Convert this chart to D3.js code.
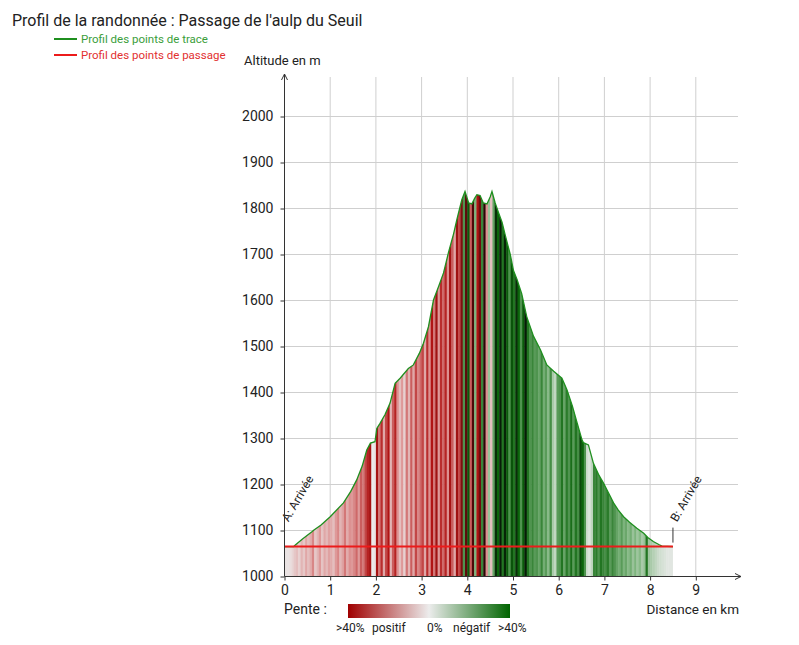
<!DOCTYPE html>
<html><head><meta charset="utf-8">
<script src="https://cdn.jsdelivr.net/npm/d3@7"></script>
<style>body{margin:0;background:#fff}svg{display:block;font-family:Roboto,"Noto Sans",sans-serif}</style>
</head><body>
<svg id="c" width="799" height="645"></svg>
<script>
// ---- data ----
const distances = [0,0.2,0.23,0.4,0.6,0.63,0.8,1.0,1.29,1.45,1.58,1.7,1.8,1.88,1.98,2.02,2.09,2.2,2.31,2.42,2.53,2.71,2.82,2.95,3.04,3.15,3.26,3.37,3.48,3.59,3.7,3.77,3.88,3.95,4.03,4.10,4.16,4.21,4.28,4.35,4.43,4.50,4.54,4.61,4.68,4.76,4.83,4.94,5.01,5.09,5.19,5.30,5.45,5.60,5.74,5.89,6.07,6.18,6.30,6.40,6.51,6.54,6.65,6.76,6.87,6.98,7.10,7.20,7.30,7.42,7.55,7.71,7.86,7.95,8.07,8.20,8.26,8.5];
const altitudes = [1065,1065,1068,1082,1097,1100,1112,1130,1160,1185,1210,1240,1275,1290,1293,1322,1333,1352,1377,1420,1431,1452,1460,1485,1507,1543,1601,1630,1660,1705,1745,1775,1819,1837,1812,1810,1822,1830,1828,1812,1810,1825,1837,1812,1792,1770,1742,1700,1665,1645,1615,1565,1522,1493,1460,1446,1431,1406,1370,1335,1297,1291,1286,1246,1222,1203,1180,1160,1145,1130,1118,1105,1094,1085,1076,1069,1066,1065];
const waypointDist = [0, 8.5];
const waypointAlt = [1065, 1065];
const waypointNames = ["A: Arrivée", "B: Arrivée"];
const stripeStep = 0.05;
// slope (%) of each 0.05 km stripe, + uphill, - downhill
const slopes = [
  2,2,3,5,8,10,6,12,8,15,
  10,14,22,8,12,18,9,15,11,16,
  14,10,18,22,12,16,25,14,20,18,
  22,28,18,30,25,35,42,48,0,2,
  48,25,40,15,35,45,12,30,42,20,
  10,18,6,25,12,30,15,35,22,28,
  35,15,40,20,45,25,50,18,40,28,
  42,20,48,30,15,50,35,60,-30,70,
  -50,30,75,-20,45,65,-35,85,20,-15,
  10,-25,-75,-45,-85,-40,-80,-50,-30,-55,
  -40,-75,-45,-30,-50,-85,-40,-30,-35,-28,
  -30,-25,-35,-22,-28,-18,-32,-12,-8,-28,
  -30,-40,-25,-38,-30,-42,-28,-40,-32,-60,
  -45,-30,-5,-3,-8,-35,-38,-30,-40,-35,
  -32,-38,-28,-35,-30,-25,-22,-28,-20,-24,
  -18,-22,-15,-20,-14,-18,-12,-16,-40,-14,
  -12,-10,-8,-6,-5,-4,-3,-2,-2,-2
];
const yTicks = [1000,1100,1200,1300,1400,1500,1600,1700,1800,1900,2000];
const xTicks = [0,1,2,3,4,5,6,7,8,9];
const title = "Profil de la randonnée : Passage de l'aulp du Seuil";
const legendLabels = ["Profil des points de trace", "Profil des points de passage"];
const penteLabels = [">40%", "positif", "0%", "négatif", ">40%"];

// ---- drawing ----
const svg = d3.select("#c");
const x = d3.scaleLinear().domain([0, 9]).range([284.5, 695.8]);
const y = d3.scaleLinear().domain([1000, 2000]).range([576.5, 116.5]);
const gridColor = "#cfcfcf", txt = "#222";

// grid
svg.append("g").selectAll("line").data(yTicks.slice(1)).join("line")
  .attr("x1", x(0)).attr("x2", 738).attr("y1", d => y(d)).attr("y2", d => y(d))
  .attr("stroke", gridColor).attr("stroke-width", 1);
svg.append("g").selectAll("line").data(xTicks.slice(1)).join("line")
  .attr("x1", d => x(d)).attr("x2", d => x(d)).attr("y1", 77).attr("y2", y(1000))
  .attr("stroke", gridColor).attr("stroke-width", 1);

// stripes clipped by profile area
const profile = distances.map((d, i) => [d, altitudes[i]]);
const area = d3.area().x(d => x(d[0])).y0(y(1000)).y1(d => y(d[1]));
svg.append("clipPath").attr("id", "pc").append("path").attr("d", area(profile));
const color = d3.scaleLinear()
  .domain([-90, -45, -20, 0, 20, 45, 90])
  .range(["#061206", "#0b650b", "#7db47d", "#ececec", "#dc9090", "#b01414", "#1a0404"])
  .clamp(true);
svg.append("g").attr("clip-path", "url(#pc)").selectAll("rect").data(slopes).join("rect")
  .attr("x", (s, i) => x(i * stripeStep))
  .attr("width", (s, i) => x((i + 1) * stripeStep) - x(i * stripeStep) + 0.4)
  .attr("y", y(2000)).attr("height", y(1000) - y(2000))
  .attr("fill", s => color(s));

// profile line
svg.append("path").datum(profile)
  .attr("d", d3.line().x(d => x(d[0])).y(d => y(d[1])))
  .attr("fill", "none").attr("stroke", "#1f8f1f").attr("stroke-width", 1.3);

// waypoint line
const wp = waypointDist.map((d, i) => [d, waypointAlt[i]]);
svg.append("path").datum(wp)
  .attr("d", d3.line().x(d => x(d[0])).y(d => y(d[1])))
  .attr("fill", "none").attr("stroke", "#ec1b1b").attr("stroke-width", 2);

// waypoint markers & labels
wp.forEach((p, i) => {
  const px = x(p[0]), py = y(p[1]);
  if (i > 0) svg.append("line").attr("x1", px).attr("x2", px).attr("y1", py - 19).attr("y2", py - 4)
    .attr("stroke", "#333").attr("stroke-width", 1);
  svg.append("text").attr("transform", `translate(${px + 4},${py - 24}) rotate(-60)`)
    .attr("font-size", 12).attr("fill", txt).text(waypointNames[i]);
});

// axes
const yAxis = svg.append("g").attr("transform", `translate(${x(0)},0)`)
  .call(d3.axisLeft(y).tickValues(yTicks).tickSize(4).tickPadding(7).tickFormat(d3.format("d")));
yAxis.select(".domain").remove();
yAxis.selectAll("line").attr("stroke", "#333");
yAxis.selectAll("text").attr("font-size", 14).attr("fill", txt).attr("font-family", "Roboto");
const xAxis = svg.append("g").attr("transform", `translate(0,${y(1000)})`)
  .call(d3.axisBottom(x).tickValues(xTicks).tickSize(4).tickPadding(5).tickFormat(d3.format("d")));
xAxis.select(".domain").remove();
xAxis.selectAll("line").attr("stroke", "#333");
xAxis.selectAll("text").attr("font-size", 14).attr("fill", txt).attr("font-family", "Roboto");

svg.append("line").attr("x1", x(0)).attr("x2", x(0)).attr("y1", y(1000)).attr("y2", 74).attr("stroke", "#333");
svg.append("path").attr("d", `M${x(0)-3},80 L${x(0)},74 L${x(0)+3},80`).attr("fill", "none").attr("stroke", "#333");
svg.append("line").attr("x1", x(0)).attr("x2", 741).attr("y1", y(1000)).attr("y2", y(1000)).attr("stroke", "#333");
svg.append("path").attr("d", `M735,${y(1000)-3} L741,${y(1000)} L735,${y(1000)+3}`).attr("fill", "none").attr("stroke", "#333");

svg.append("text").attr("x", 244).attr("y", 65).attr("font-size", 13).attr("fill", txt).text("Altitude en m");
svg.append("text").attr("x", 739).attr("y", 614).attr("text-anchor", "end").attr("font-size", 13.5).attr("fill", txt).text("Distance en km");

// title & legend
svg.append("text").attr("x", 12).attr("y", 26).attr("font-size", 16).attr("fill", txt).text(title);
const legColors = ["#1f8f1f", "#ec1b1b"], legText = ["#3a9e3a", "#e23030"];
legendLabels.forEach((l, i) => {
  const ly = 39 + i * 16;
  svg.append("line").attr("x1", 54).attr("x2", 77).attr("y1", ly).attr("y2", ly).attr("stroke", legColors[i]).attr("stroke-width", 2);
  svg.append("text").attr("x", 81).attr("y", ly + 4).attr("font-size", 11.5).attr("fill", legText[i]).text(l);
});

// pente legend
svg.append("text").attr("x", 284).attr("y", 614).attr("font-size", 14).attr("fill", txt).text("Pente :");
const grad = svg.append("defs").append("linearGradient").attr("id", "pg");
[[0, "#a00000"], [0.5, "#ececec"], [1, "#006400"]].forEach(s =>
  grad.append("stop").attr("offset", s[0]).attr("stop-color", s[1]));
svg.append("rect").attr("x", 348).attr("y", 604).attr("width", 162).attr("height", 14).attr("fill", "url(#pg)");
const penteX = [336, 372, 427, 453, 498];
penteLabels.forEach((t, i) => svg.append("text").attr("x", penteX[i]).attr("y", 632)
  .attr("font-size", 12).attr("fill", txt).text(t));
</script>
</body></html>
